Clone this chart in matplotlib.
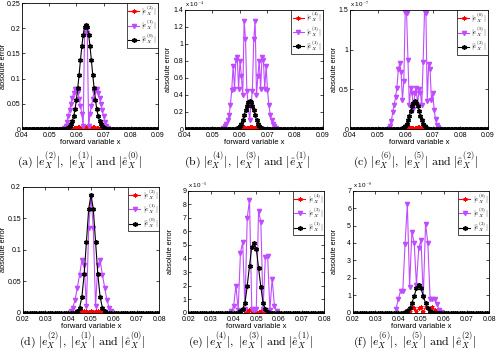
import numpy as np
import matplotlib
matplotlib.use('Agg')
import matplotlib.pyplot as plt
from matplotlib.ticker import FuncFormatter

plt.rcParams['font.family'] = ['Liberation Sans', 'DejaVu Sans']
plt.rcParams['mathtext.fontset'] = 'cm'

# grids of the forward variable x
step_top = 0.0005
step_bot = 0.001
x_top = np.arange(0.04, 0.09 + 1e-9, step_top)
x_bot = np.arange(0.02, 0.08 + 1e-9, step_bot)

# (a)
a_red_x0 = 0.0575
a_red = [0.001, 0.0015, 0.002, 0.002, 0.0025, 0.0025, 0.003, 0.003, 0.0025, 0.002, 0.002, 0.0025, 0.003,
         0.0025, 0.002, 0.002, 0.0025, 0.003, 0.003, 0.0025, 0.0025, 0.002, 0.002, 0.0015, 0.001]
a_pur_x0 = 0.0555
a_pur = [0.002, 0.006, 0.014, 0.025, 0.038, 0.05, 0.062, 0.072, 0.079, 0.080, 0.074, 0.06, 0.045, 0.03, 0.005,
         0.19, 0.205, 0.19,
         0.005, 0.03, 0.045, 0.06, 0.074, 0.080, 0.079, 0.072, 0.062, 0.05, 0.038, 0.025, 0.014, 0.006, 0.002]
a_blk_x0 = 0.0565
a_blk = [0.001, 0.002, 0.005, 0.009, 0.016, 0.025, 0.039, 0.058, 0.082, 0.108, 0.137, 0.164, 0.187, 0.202, 0.207,
         0.202, 0.187, 0.164, 0.137, 0.108, 0.082, 0.058, 0.039, 0.025, 0.016, 0.009, 0.005, 0.002, 0.001]

# (b)  values in units of 1e-4
b_red_x0 = 0.059
b_red = [0.005, 0.01, 0.015, 0.02, 0.022, 0.018, 0.012, 0.008, 0.012, 0.018, 0.022, 0.02, 0.015, 0.008,
         0.012, 0.02, 0.022, 0.015, 0.005]
b_pur_x0 = 0.054
b_pur = [0.01, 0.03, 0.06, 0.10, 0.16, 0.28, 0.46, 0.74, 0.47, 0.81, 0.84, 0.47, 0.80, 0.62, 0.40, 1.27, 1.05,
         0.45, 0.28, 0.10, 0.28, 0.45, 1.05, 1.27, 0.40, 0.62, 0.80, 0.47, 0.84, 0.81, 0.47, 0.74, 0.46, 0.28,
         0.16, 0.10, 0.06, 0.03, 0.01]
b_blk_x0 = 0.058
b_blk = [0.001, 0.003, 0.008, 0.017, 0.034, 0.063, 0.105, 0.16, 0.22, 0.275, 0.315, 0.33,
         0.315, 0.275, 0.22, 0.16, 0.105, 0.063, 0.034, 0.017, 0.008, 0.003, 0.001]

# (c)  values in units of 1e-7
c_red_x0 = 0.059
c_red = [0.005, 0.01, 0.015, 0.018, 0.02, 0.02, 0.018, 0.015, 0.012, 0.015, 0.018, 0.02, 0.02, 0.018,
         0.015, 0.01, 0.005]
c_pur_x0 = 0.054
c_pur = [0.01, 0.04, 0.10, 0.22, 0.30, 0.40, 0.52, 0.75, 0.83, 0.72, 0.37, 0.60, 1.48, 1.46, 0.87, 0.30,
         0.52, 0.45, 0.25, 0.45, 0.52, 0.30, 0.50, 0.45, 0.30, 0.85, 1.48, 1.46, 0.35, 0.82, 0.76, 0.37,
         0.45, 0.24, 0.12, 0.05, 0.02, 0.005]
c_blk_x0 = 0.058
c_blk = [0.001, 0.003, 0.008, 0.018, 0.036, 0.067, 0.111, 0.168, 0.233, 0.29, 0.334, 0.35,
         0.334, 0.29, 0.233, 0.168, 0.111, 0.067, 0.036, 0.018, 0.008, 0.003, 0.001]

# (d)
d_red_x0 = 0.044
d_red = [0.001, 0.002, 0.003, 0.003, 0.002, 0.001, 0.002, 0.001, 0.002, 0.003, 0.003, 0.002, 0.001]
d_pur_x0 = 0.041
d_pur = [0.002, 0.008, 0.02, 0.04, 0.06, 0.084, 0.076, 0.01, 0.135, 0.185, 0.135, 0.01, 0.076, 0.084,
         0.06, 0.04, 0.02, 0.008, 0.002]
d_blk_x0 = 0.044
d_blk = [0.002, 0.008, 0.025, 0.061, 0.113, 0.165, 0.187, 0.165, 0.113, 0.061, 0.025, 0.008, 0.002]

# (e)  values in units of 1e-5
e_red_x0 = 0.045
e_red = [0.05, 0.15, 0.2, 0.1, 0.02, 0.05, 0.02, 0.1, 0.2, 0.15, 0.05]
e_pur_x0 = 0.039
e_pur = [0.1, 0.5, 2.0, 0.2, 4.4, 5.2, 0.3, 7.0, 8.3, 0.3, 0.2, 0.3, 7.5, 6.7, 0.3, 4.1, 4.2, 0.2,
         2.5, 0.5, 0.1]
e_blk_x0 = 0.043
e_blk = [0.1, 0.3, 0.7, 2.0, 3.45, 4.85, 5.15, 4.7, 3.3, 1.9, 0.7, 0.25, 0.08]

# (f)  values in units of 1e-8
f_red_x0 = 0.043
f_red = [0.05, 0.15, 0.05, 0.3, 0.25, 0.02, 0.25, 0.3, 0.02, 0.3, 0.25, 0.05, 0.3, 0.15, 0.02]
f_pur_x0 = 0.039
f_pur = [0.2, 0.76, 1.24, 1.24, 3.95, 6.23, 1.5, 4.65, 4.0, 1.6, 3.7, 4.17, 0.9, 5.1, 4.0, 0.8, 0.8,
         0.8, 0.5, 0.15, 0.02]
f_blk_x0 = 0.043
f_blk = [0.02, 0.08, 0.25, 0.55, 0.95, 1.4, 1.58, 1.4, 0.95, 0.55, 0.25, 0.08, 0.02]

labels_0 = [r'$|e_X^{(2)}|$', r'$|e_X^{(1)}|$', r'$|\hat{e}_X^{(0)}|$']
labels_1 = [r'$|e_X^{(4)}|$', r'$|e_X^{(3)}|$', r'$|\hat{e}_X^{(1)}|$']
labels_2 = [r'$|e_X^{(6)}|$', r'$|e_X^{(5)}|$', r'$|\hat{e}_X^{(2)}|$']

captions = [r'$\mathrm{(a)}\ |e_X^{(2)}|,\ |e_X^{(1)}|\ \mathrm{and}\ |\hat{e}_X^{(0)}|$',
            r'$\mathrm{(b)}\ |e_X^{(4)}|,\ |e_X^{(3)}|\ \mathrm{and}\ |\hat{e}_X^{(1)}|$',
            r'$\mathrm{(c)}\ |e_X^{(6)}|,\ |e_X^{(5)}|\ \mathrm{and}\ |\hat{e}_X^{(2)}|$',
            r'$\mathrm{(d)}\ |e_X^{(2)}|,\ |e_X^{(1)}|\ \mathrm{and}\ |\hat{e}_X^{(0)}|$',
            r'$\mathrm{(e)}\ |e_X^{(4)}|,\ |e_X^{(3)}|\ \mathrm{and}\ |\hat{e}_X^{(1)}|$',
            r'$\mathrm{(f)}\ |e_X^{(6)}|,\ |e_X^{(5)}|\ \mathrm{and}\ |\hat{e}_X^{(2)}|$']

purple = '#C04CFF'


def win(x0, step, vals):
    return x0 + step * np.arange(len(vals)), np.array(vals)


def full(xg, x0, step, vals):
    y = np.zeros(len(xg))
    i = int(round((x0 - xg[0]) / step))
    y[i:i + len(vals)] = vals
    return y


W, H = 496, 350
fig = plt.figure(figsize=(W / 100, H / 100), dpi=100)

# axes boxes in pixels: left, top, right, bottom
boxes = [(22, 3, 158, 129), (185, 9.5, 322.5, 129), (350, 10, 488, 129),
         (22.7, 186.7, 159.3, 312.7), (188.3, 190.7, 324.3, 312.7), (352.7, 190.7, 489.3, 312.7)]
ylab_x = [7.5, 172.5, 337.5, 7.5, 173.5, 338.5]
cap_pos = [(80, 161), (247, 161), (416, 161), (82, 341), (251, 341), (415, 341)]

panels = [
    (x_top, step_top, a_red_x0, a_red, a_pur_x0, a_pur, a_blk_x0, a_blk, labels_0, 0.25, np.arange(0, 0.26, 0.05), None),
    (x_top, step_top, b_red_x0, b_red, b_pur_x0, b_pur, b_blk_x0, b_blk, labels_1, 1.4, np.arange(0, 1.41, 0.2), '-4'),
    (x_top, step_top, c_red_x0, c_red, c_pur_x0, c_pur, c_blk_x0, c_blk, labels_2, 1.5, np.arange(0, 1.51, 0.5), '-7'),
    (x_bot, step_bot, d_red_x0, d_red, d_pur_x0, d_pur, d_blk_x0, d_blk, labels_0, 0.2, np.arange(0, 0.21, 0.05), None),
    (x_bot, step_bot, e_red_x0, e_red, e_pur_x0, e_pur, e_blk_x0, e_blk, labels_1, 9, np.arange(0, 9.1, 1), '-5'),
    (x_bot, step_bot, f_red_x0, f_red, f_pur_x0, f_pur, f_blk_x0, f_blk, labels_2, 7, np.arange(0, 7.1, 1), '-8'),
]

for k, (xg, st, rx0, r, px0, p, bx0, b, labs, ytop, yt, expo) in enumerate(panels):
    l, t, rr, bb = boxes[k]
    ax = fig.add_axes([l / W, 1 - bb / H, (rr - l) / W, (bb - t) / H])
    xr, yr = win(rx0, st, r)
    xp, yp = win(px0, st, p)
    yb = full(xg, bx0, st, b)
    ax.plot(xr, yr, color='red', marker=(6, 2, 0), ms=3, mew=0.6, lw=0.8, label=labs[0])
    ax.plot(xp, yp, color=purple, marker='v', ms=3, mec=purple, mfc=purple, lw=0.8, label=labs[1])
    ax.plot(xg, yb, color='k', marker=(6, 1, 0), ms=3.2, mec='k', mfc='k', lw=0.8, label=labs[2])
    ax.set_xlim(xg[0], xg[-1])
    ax.set_ylim(0, ytop)
    ax.set_xticks(np.round(np.arange(xg[0], xg[-1] + 1e-9, 0.01), 3))
    ax.set_yticks(yt)
    ax.xaxis.set_major_formatter(FuncFormatter(lambda v, pos: '%g' % round(v, 3)))
    ax.yaxis.set_major_formatter(FuncFormatter(lambda v, pos: '%g' % round(v, 3)))
    ax.tick_params(direction='in', length=2, width=0.5, labelsize=5, pad=1.2, top=True, right=True)
    ax.tick_params(axis='x', pad=2.5)
    for s in ax.spines.values():
        s.set_linewidth(0.6)
    ax.set_xlabel('forward variable x', fontsize=5.5, labelpad=0)
    ax.set_ylabel('absolute error', fontsize=5.3)
    ax.yaxis.set_label_coords((ylab_x[k] - l) / (rr - l), 0.5)
    if expo:
        ax.text(0.0, 1.005, r'x 10$^{%s}$' % expo, transform=ax.transAxes, fontsize=4.5,
                ha='left', va='bottom')
    leg = ax.legend(loc='upper right', fontsize=5, fancybox=False, edgecolor='k', framealpha=1,
                    borderpad=0.2, labelspacing=0.1, handlelength=1.6, handletextpad=0.3,
                    borderaxespad=0.0)
    leg.get_frame().set_linewidth(0.5)
    cx, cy = cap_pos[k]
    fig.text(cx / W, 1 - cy / H, captions[k], fontsize=8.5, ha='center', va='center')

fig.savefig('out.png', dpi=100)
